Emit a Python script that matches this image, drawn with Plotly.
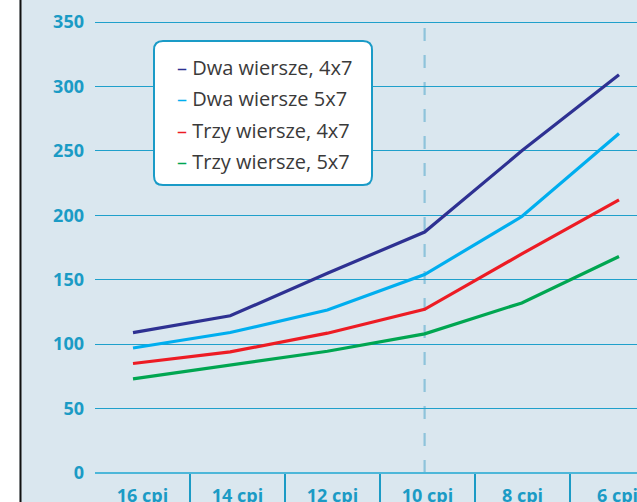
import plotly.graph_objects as go

# ---- data ----
categories = ["16 cpi", "14 cpi", "12 cpi", "10 cpi", "8 cpi", "6 cpi"]
series_names = ["Dwa wiersze, 4x7", "Dwa wiersze 5x7", "Trzy wiersze, 4x7", "Trzy wiersze, 5x7"]
dwa_4x7 = [109, 122, 155, 187, 250, 309]
dwa_5x7 = [97, 109, 126.5, 154, 199, 263.5]
trzy_4x7 = [85, 94, 108.5, 127, 170, 212]
trzy_5x7 = [73, 83.5, 94.5, 108, 132, 168]
y_ticks = [0, 50, 100, 150, 200, 250, 300, 350]
marked_category = "10 cpi"

series_values = [dwa_4x7, dwa_5x7, trzy_4x7, trzy_5x7]
colors = ["#2E3192", "#00AEEF", "#ED1C24", "#00A651"]

# ---- layout constants (pixels) ----
W, H = 637, 502
ML, MR, MT, MB = 95, 0, 0, 29
PW = W - ML - MR
PH = H - MT - MB
BG = "#DAE7EF"
AXIS_BLUE = "#1B9BC5"
GRID = "#1FA0CB"
FONT = "Open Sans"


def px_x(p):
    return (p - ML) / PW


def px_y(p):
    return (MT + PH - p) / PH


idx = list(range(len(categories)))

fig = go.Figure()
for name, vals, col in zip(series_names, series_values, colors):
    fig.add_trace(go.Scatter(
        x=idx, y=vals, mode="lines", name=name,
        line=dict(color=col, width=3.2),
        showlegend=False, hoverinfo="skip",
    ))

# helper trace for the category label axis
fig.add_trace(go.Scatter(x=idx, y=[None] * len(idx), xaxis="x2", mode="lines",
                         showlegend=False, hoverinfo="skip"))

# data x axis: first point at 133px, last at 619px
step = (619 - 133) / (len(idx) - 1)
x_range = [(ML - 133) / step, (W - MR - 133) / step]
# label axis: cells 95px wide starting at plot left edge
cell = 95
x2_range = [-0.5, -0.5 + PW / cell]

y_top = 350 * PH / (PH - 22)

fig.update_layout(
    width=W, height=H, autosize=False,
    margin=dict(l=ML, r=MR, t=MT, b=MB, pad=0, autoexpand=False),
    paper_bgcolor=BG, plot_bgcolor=BG,
    xaxis=dict(range=x_range, showgrid=False, zeroline=False, showticklabels=False,
               ticks="", showline=False, fixedrange=True, automargin=False),
    xaxis2=dict(range=x2_range, overlaying="x", anchor="y", side="bottom",
                tickmode="array", tickvals=idx, ticktext=categories,
                ticks="", ticklabelstandoff=10, ticklabeloverflow="allow",
                automargin=False,
                tickfont=dict(family=FONT, size=18, color=AXIS_BLUE, weight=700),
                showgrid=False, zeroline=False, showline=False,
                minor=dict(tickmode="array", tickvals=[i + 0.5 for i in idx[:-1]],
                           ticks="outside", ticklen=30, tickwidth=1.3,
                           tickcolor=AXIS_BLUE, showgrid=False)),
    yaxis=dict(range=[0, y_top], tickmode="array", tickvals=y_ticks,
               ticktext=[str(v) for v in y_ticks], automargin=False,
               showgrid=True, gridcolor=GRID, gridwidth=1,
               zeroline=True, zerolinecolor="#4DB7D9", zerolinewidth=2.5,
               ticks="", ticklabelstandoff=10, showline=False,
               tickfont=dict(family=FONT, size=18, color=AXIS_BLUE, weight=700)),
)

shapes = []
# white strip and black rule at the far left
shapes.append(dict(type="rect", xref="paper", yref="paper",
                   x0=px_x(-5), x1=px_x(19.5), y0=px_y(H + 5), y1=px_y(-5),
                   fillcolor="white", line=dict(width=0), layer="below"))
shapes.append(dict(type="line", xref="paper", yref="paper",
                   x0=px_x(20.5), x1=px_x(20.5), y0=px_y(H + 5), y1=px_y(-5),
                   line=dict(color="#111111", width=2)))
# dashed marker line at 10 cpi
mi = categories.index(marked_category)
shapes.append(dict(type="line", xref="x", yref="y", x0=mi, x1=mi, y0=0, y1=348,
                   line=dict(color="#8EC3DB", width=2.2, dash="13px,14px"),
                   layer="below"))

# rounded legend box
bx0, bx1, by0, by1, r = 154, 372, 41, 185, 9
X = px_x
Y = px_y
path = (f"M {X(bx0 + r)},{Y(by0)} L {X(bx1 - r)},{Y(by0)} "
        f"Q {X(bx1)},{Y(by0)} {X(bx1)},{Y(by0 + r)} "
        f"L {X(bx1)},{Y(by1 - r)} Q {X(bx1)},{Y(by1)} {X(bx1 - r)},{Y(by1)} "
        f"L {X(bx0 + r)},{Y(by1)} Q {X(bx0)},{Y(by1)} {X(bx0)},{Y(by1 - r)} "
        f"L {X(bx0)},{Y(by0 + r)} Q {X(bx0)},{Y(by0)} {X(bx0 + r)},{Y(by0)} Z")
shapes.append(dict(type="path", xref="paper", yref="paper", path=path,
                   fillcolor="white", line=dict(color="#1A9BC7", width=2)))
fig.update_layout(shapes=shapes)

# legend entries
row_y = [67, 98.5, 130, 161.5]
for name, col, ry in zip(series_names, colors, row_y):
    fig.add_annotation(
        xref="paper", yref="paper", x=px_x(175), y=px_y(ry),
        xanchor="left", yanchor="middle", showarrow=False, align="left",
        text=f"<span style='color:{col}'>–</span> {name}",
        font=dict(family=FONT, size=20, color="#3A3A3A"),
    )

fig.write_html("out.html",
               config={"displayModeBar": False, "staticPlot": True},
               post_script="document.body.style.margin='0';document.body.style.overflow='hidden';")
